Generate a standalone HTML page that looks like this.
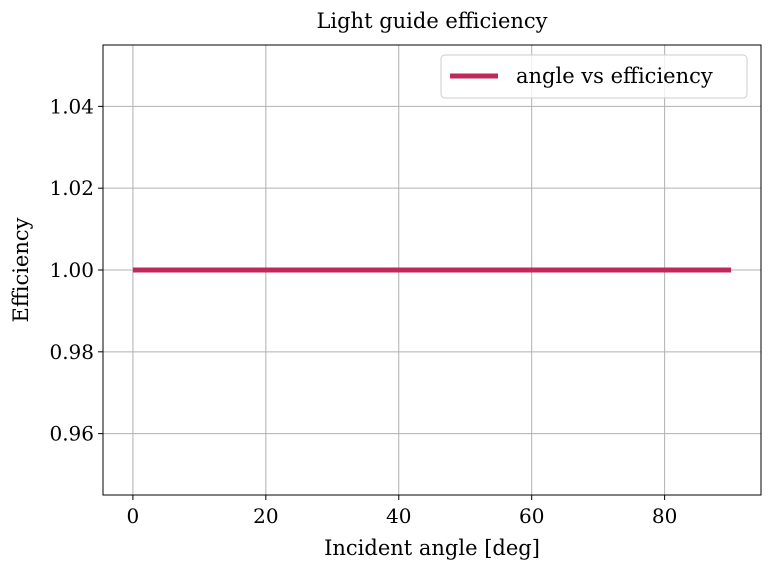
<!DOCTYPE html>
<html><head><meta charset="utf-8"><style>
body{margin:0;background:#fff;}
svg text{font-family:"DejaVu Serif","Liberation Serif",serif;fill:#000;}
</style></head><body>
<svg id="chart" width="769" height="568" xmlns="http://www.w3.org/2000/svg">
<rect width="769" height="568" fill="#fff"/>
<g id="grid"></g>
<g id="series"></g>
<rect x="103" y="45" width="658" height="450" fill="none" stroke="#000" stroke-width="1"/>
<g id="ticks"></g>
<text x="432" y="28" font-size="21" text-anchor="middle">Light guide efficiency</text>
<text x="432" y="555" font-size="21" text-anchor="middle">Incident angle [deg]</text>
<text transform="translate(28,270) rotate(-90)" font-size="21" text-anchor="middle">Efficiency</text>
<g>
<rect x="441" y="55" width="306" height="43" rx="4" fill="#fff" fill-opacity="0.8" stroke="#ccc"/>
<line x1="450" y1="76" x2="498" y2="76" stroke="#c0275a" stroke-width="5"/>
<text x="516" y="83" font-size="21">angle vs efficiency</text>
</g>
</svg>
<script>
const angles=[0,10,20,30,40,50,60,70,80,90];
const efficiency=[1,1,1,1,1,1,1,1,1,1];
const xTicks=[0,20,40,60,80];
const yTicks=[0.96,0.98,1.00,1.02,1.04];
const yTickLabels=["0.96","0.98","1.00","1.02","1.04"];
const NS="http://www.w3.org/2000/svg";
const L=103,R=761,T=45,B=495;
const xMin=-4.5,xMax=94.5,yMin=0.945,yMax=1.055;
const sx=v=>L+(v-xMin)/(xMax-xMin)*(R-L);
const sy=v=>B-(v-yMin)/(yMax-yMin)*(B-T);
function mk(tag,attrs,parent){const e=document.createElementNS(NS,tag);for(const k in attrs)e.setAttribute(k,attrs[k]);parent.appendChild(e);return e;}
const grid=document.getElementById('grid'),ticks=document.getElementById('ticks'),series=document.getElementById('series');
xTicks.forEach(v=>{const x=sx(v);
 const g=mk('line',{x1:x,x2:x,y1:T,y2:B,stroke:'#b0b0b0','stroke-width':1},grid);
 
 
 const t=mk('line',{x1:x,x2:x,y1:B,y2:B+5,stroke:'#000'},ticks);
 
 
 const l=mk('text',{x:x,y:B+28,'font-size':20,'text-anchor':'middle'},ticks);l.textContent=v;
 
 
});
yTicks.forEach((v,i)=>{const y=sy(v);
 const g=mk('line',{x1:L,x2:R,y1:y,y2:y,stroke:'#b0b0b0','stroke-width':1},grid);
 
 
 const t=mk('line',{x1:L-5,x2:L,y1:y,y2:y,stroke:'#000'},ticks);
 
 
 const l=mk('text',{x:L-9,y:y+7,'font-size':20,'text-anchor':'end'},ticks);l.textContent=yTickLabels[i];
 
 
});
const p=mk('polyline',{points:angles.map((a,i)=>sx(a)+','+sy(efficiency[i])).join(' '),fill:'none',stroke:'#c0275a','stroke-width':5},series);


</script>
</body></html>
